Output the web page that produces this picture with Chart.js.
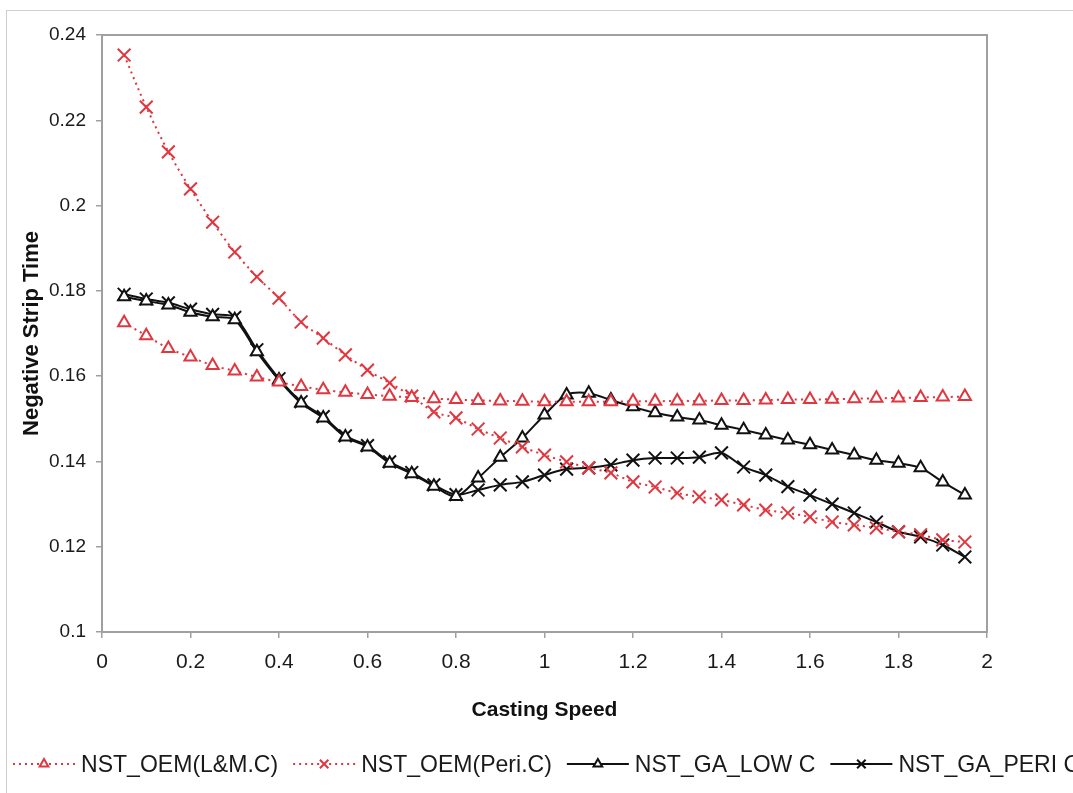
<!DOCTYPE html>
<html>
<head>
<meta charset="utf-8">
<title>Negative Strip Time vs Casting Speed</title>
<script src="https://cdn.jsdelivr.net/npm/chart.js@4.4.0/dist/chart.umd.min.js"></script>
<style>
    html, body { margin: 0; padding: 0; background: #fff; overflow: hidden; }
    #wrap { position: relative; width: 1073px; height: 793px; }
</style>
</head>
<body>
<div id="wrap"><canvas id="nstChart"></canvas></div>
<script>
// --- 1. DATA ---
const speeds = [0.05, 0.10, 0.15, 0.20, 0.25, 0.30, 0.35, 0.40, 0.45, 0.50,
                0.55, 0.60, 0.65, 0.70, 0.75, 0.80, 0.85, 0.90, 0.95, 1.00,
                1.05, 1.10, 1.15, 1.20, 1.25, 1.30, 1.35, 1.40, 1.45, 1.50,
                1.55, 1.60, 1.65, 1.70, 1.75, 1.80, 1.85, 1.90, 1.95];

const oemLowC = [0.1725, 0.1695, 0.1665, 0.1645, 0.1625, 0.1612, 0.1598, 0.1586, 0.1576, 0.1568,
                 0.1562, 0.1557, 0.1553, 0.1550, 0.1547, 0.1545, 0.1543, 0.1542, 0.1541, 0.1540,
                 0.1540, 0.1540, 0.1540, 0.1541, 0.1541, 0.1542, 0.1542, 0.1543, 0.1543, 0.1544,
                 0.1545, 0.1545, 0.1546, 0.1547, 0.1548, 0.1549, 0.1550, 0.1551, 0.1552];

const oemPeriC = [0.2353, 0.2231, 0.2126, 0.2039, 0.1961, 0.1891, 0.1833, 0.1783, 0.1727, 0.1689,
                  0.1650, 0.1614, 0.1584, 0.1553, 0.1516, 0.1502, 0.1476, 0.1455, 0.1434, 0.1415,
                  0.1399, 0.1385, 0.1373, 0.1352, 0.1340, 0.1326, 0.1317, 0.1310, 0.1298, 0.1286,
                  0.1279, 0.1270, 0.1258, 0.1251, 0.1244, 0.1235, 0.1228, 0.1216, 0.1211];

const gaLowC = [0.1786, 0.1776, 0.1767, 0.1750, 0.1739, 0.1732, 0.1657, 0.1591, 0.1537, 0.1502,
                0.1457, 0.1434, 0.1396, 0.1371, 0.1342, 0.1318, 0.1361, 0.1410, 0.1455, 0.1509,
                0.1556, 0.1560, 0.1544, 0.1528, 0.1514, 0.1504, 0.1497, 0.1485, 0.1474, 0.1462,
                0.1450, 0.1439, 0.1427, 0.1415, 0.1403, 0.1396, 0.1385, 0.1352, 0.1321];

const gaPeriC = [0.1792, 0.1781, 0.1772, 0.1757, 0.1745, 0.1738, 0.1662, 0.1594, 0.1540, 0.1505,
                 0.1460, 0.1437, 0.1399, 0.1374, 0.1345, 0.1322, 0.1333, 0.1345, 0.1352, 0.1368,
                 0.1382, 0.1385, 0.1392, 0.1403, 0.1408, 0.1408, 0.1410, 0.1420, 0.1387, 0.1368,
                 0.1341, 0.1321, 0.1300, 0.1279, 0.1258, 0.1235, 0.1223, 0.1204, 0.1176];

const seriesNames = ["NST_OEM(L&M.C)", "NST_OEM(Peri.C)", "NST_GA_LOW C", "NST_GA_PERI C"];

// axis ranges / ticks
const xMin = 0, xMax = 2, xStep = 0.2;
const yMin = 0.1, yMax = 0.24, yStep = 0.02;

// --- 2. STYLE ---
const RED = '#e0363f';
const BLACK = '#111111';
const FONT = '"Liberation Sans", Arial, Helvetica, sans-serif';

function toPoints(values) {
    return speeds.map((s, i) => ({ x: s, y: values[i] }));
}

const datasets = [
    { label: seriesNames[0], data: toPoints(oemLowC), borderColor: RED, borderDash: [2, 4],
      pointStyle: 'triangle', pointRadius: 7, pointBorderColor: RED, pointBackgroundColor: '#fff' },
    { label: seriesNames[1], data: toPoints(oemPeriC), borderColor: RED, borderDash: [2, 4],
      pointStyle: 'crossRot', pointRadius: 9, pointBorderColor: RED, pointBackgroundColor: RED },
    { label: seriesNames[2], data: toPoints(gaLowC), borderColor: BLACK, borderDash: [],
      pointStyle: 'triangle', pointRadius: 7, pointBorderColor: BLACK, pointBackgroundColor: '#fff' },
    { label: seriesNames[3], data: toPoints(gaPeriC), borderColor: BLACK, borderDash: [],
      pointStyle: 'crossRot', pointRadius: 9, pointBorderColor: BLACK, pointBackgroundColor: BLACK }
].map(ds => Object.assign({
    borderWidth: 2,
    pointBorderWidth: 2,
    pointHoverRadius: 9,
    tension: 0.3,
    fill: false
}, ds));

// --- 3. PLUGINS: frame + line/marker legend ---
const framePlugin = {
    id: 'frame',
    beforeDraw(chart) {
        const ctx = chart.ctx;
        ctx.save();
        ctx.fillStyle = '#fff';
        ctx.fillRect(0, 0, chart.width, chart.height);
        ctx.strokeStyle = '#cfcfcf';
        ctx.lineWidth = 1;
        ctx.strokeRect(6.5, 10.5, 1100, 800);
        ctx.restore();
    },
    beforeDatasetsDraw(chart) {
        const { ctx, chartArea: a } = chart;
        ctx.save();
        ctx.strokeStyle = '#a0a0a0';
        ctx.lineWidth = 2;
        ctx.strokeRect(a.left, a.top, a.right - a.left, a.bottom - a.top);
        ctx.restore();
    }
};

const legendPlugin = {
    id: 'lineLegend',
    afterDraw(chart) {
        const ctx = chart.ctx;
        const y = 764;
        const lineLen = 62;
        const squeeze = 0.96;
        let x = 13;
        ctx.save();
        ctx.font = '24px ' + FONT;
        ctx.textBaseline = 'middle';
        chart.data.datasets.forEach(ds => {
            // sample line
            ctx.strokeStyle = ds.borderColor;
            ctx.lineWidth = 2;
            ctx.setLineDash(ds.borderDash);
            ctx.beginPath();
            ctx.moveTo(x, y);
            ctx.lineTo(x + lineLen, y);
            ctx.stroke();
            ctx.setLineDash([]);
            // marker
            ctx.fillStyle = '#fff';
            ctx.strokeStyle = ds.pointBorderColor;
            Chart.helpers.drawPoint(ctx, {
                pointStyle: ds.pointStyle,
                radius: ds.pointStyle === 'triangle' ? 5 : 6,
                rotation: 0,
                borderWidth: 1.5
            }, x + lineLen / 2, y);
            // text
            const tx = x + lineLen + 6;
            ctx.fillStyle = '#1a1a1a';
            ctx.save();
            ctx.translate(tx, y);
            ctx.scale(squeeze, 1);
            ctx.fillText(ds.label, 0, 1);
            ctx.restore();
            x = tx + ctx.measureText(ds.label).width * squeeze + 15;
        });
        ctx.restore();
    }
};

// --- 4. CHART ---
function tickLabel(v) {
    return String(parseFloat(Number(v).toFixed(2)));
}

const ctxMain = document.getElementById('nstChart').getContext('2d');
const nstChart = new Chart(ctxMain, {
    type: 'line',
    data: { datasets: datasets },
    plugins: [framePlugin, legendPlugin],
    options: {
        responsive: true,
        maintainAspectRatio: false,
        animation: false,
        layout: { padding: { left: 8, top: 35, right: 86, bottom: 61 } },
        plugins: {
            legend: { display: false },
            tooltip: { enabled: true }
        },
        scales: {
            x: {
                type: 'linear',
                min: xMin,
                max: xMax,
                afterFit: scale => { scale.height = 100; },
                border: { display: false },
                grid: { drawOnChartArea: false, drawTicks: true, tickLength: 6, color: '#a0a0a0', lineWidth: 1.5 },
                ticks: {
                    stepSize: xStep,
                    padding: 12,
                    color: '#1a1a1a',
                    font: { family: FONT, size: 21 },
                    maxRotation: 0,
                    callback: tickLabel
                },
                title: {
                    display: true,
                    text: 'Casting Speed',
                    color: '#111',
                    font: { family: FONT, size: 21, weight: 'bold' },
                    padding: { top: 0, bottom: 9 }
                }
            },
            y: {
                type: 'linear',
                min: yMin,
                max: yMax,
                afterFit: scale => { scale.width = 94; },
                border: { display: false },
                grid: { drawOnChartArea: false, drawTicks: true, tickLength: 6, color: '#a0a0a0', lineWidth: 1.5 },
                ticks: {
                    stepSize: yStep,
                    padding: 10,
                    color: '#1a1a1a',
                    font: { family: FONT, size: 19 },
                    callback: tickLabel
                },
                title: {
                    display: true,
                    text: 'Negative Strip Time',
                    color: '#111',
                    font: { family: FONT, size: 22, weight: 'bold' },
                    padding: { top: 11, bottom: 0 }
                }
            }
        }
    }
});
</script>
</body>
</html>
